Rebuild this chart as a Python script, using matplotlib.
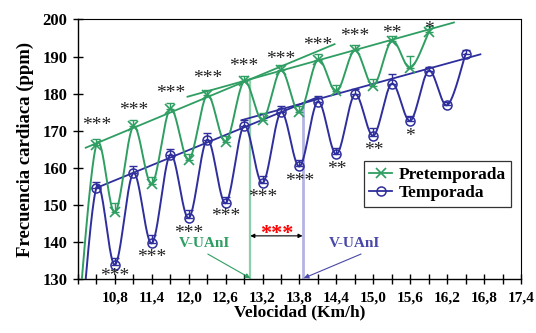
import numpy as np
import matplotlib
matplotlib.use("Agg")
import matplotlib.pyplot as plt
from matplotlib.lines import Line2D

# ---------------- data ----------------
pre_x = [10.2, 10.5, 10.8, 11.1, 11.4, 11.7, 12.0, 12.3, 12.6, 12.9, 13.2,
         13.5, 13.8, 14.1, 14.4, 14.7, 15.0, 15.3, 15.6, 15.9]
pre_y = [118.0, 166.3, 148.0, 171.2, 155.7, 175.9, 162.2, 179.6, 167.1, 183.3,
         173.0, 186.3, 175.0, 189.2, 180.6, 191.7, 182.2, 194.2, 187.0, 196.6]
pre_err = [0.0, 1.4, 2.5, 1.6, 1.8, 1.6, 1.6, 1.4, 1.6, 1.4, 1.8,
           1.5, 1.6, 1.5, 1.8, 1.4, 1.8, 1.4, 3.2, 1.6]

tem_x = [10.2, 10.5, 10.8, 11.1, 11.4, 11.7, 12.0, 12.3, 12.6, 12.9, 13.2,
         13.5, 13.8, 14.1, 14.4, 14.7, 15.0, 15.3, 15.6, 15.9, 16.2, 16.5]
tem_y = [105.0, 154.7, 133.9, 158.6, 139.7, 163.6, 146.5, 167.6, 150.5, 171.4,
         155.9, 175.0, 160.4, 177.9, 163.7, 179.8, 168.7, 182.7, 172.7, 186.2,
         176.9, 190.7]
tem_err = [0.0, 1.6, 1.8, 1.8, 2.2, 1.4, 2.1, 1.8, 1.8, 1.6, 1.8,
           1.6, 1.8, 1.5, 1.8, 1.4, 2.1, 2.6, 1.4, 1.0, 1.0, 1.2]

# anaerobic threshold velocities (V-UAnI) and HR at the breakpoint
pre_thr = (13.0, 183.9)
tem_thr = (13.85, 177.4)
# slopes of the two regression lines (before / after the breakpoint)
pre_slopes = (6.9, 4.62)
tem_slopes = (6.8, 4.57)
pre_ranges = ((10.325, 14.37), (11.98, 16.31))
tem_ranges = ((10.5, 14.1), (12.86, 16.74))

# significance labels
pre_sig_x = [10.5, 11.1, 11.7, 12.3, 12.9, 13.5, 14.1, 14.7, 15.3, 15.9]
pre_sig = ["***", "***", "***", "***", "***", "***", "***", "***", "**", "*"]
pre_sig_y = [172.7, 176.8, 181.3, 185.4, 188.6, 190.6, 194.4, 196.7, 197.5, 198.7]
tem_sig_x = [10.8, 11.4, 12.0, 12.6, 13.2, 13.8, 14.4, 15.0, 15.6]
tem_sig = ["***", "***", "***", "***", "***", "***", "**", "**", "*"]
tem_sig_y = [132.1, 137.2, 143.6, 148.1, 153.4, 157.7, 161.0, 166.0, 169.9]

x_ticks = [10.2, 10.5, 10.8, 11.1, 11.4, 11.7, 12.0, 12.3, 12.6, 12.9, 13.2,
           13.5, 13.8, 14.1, 14.4, 14.7, 15.0, 15.3, 15.6, 15.9, 16.2, 16.5,
           16.8, 17.1, 17.4]
x_labels = ["", "", "10,8", "", "11,4", "", "12,0", "", "12,6", "", "13,2", "",
            "13,8", "", "14,4", "", "15,0", "", "15,6", "", "16,2", "", "16,8",
            "", "17,4"]
y_ticks = [130, 140, 150, 160, 170, 180, 190, 200]

GREEN = "#2f9e62"
BLUE = "#2e2e9c"
GREEN_L = "#8fd0ac"
BLUE_L = "#b4b4e2"

plt.rcParams["font.family"] = ["Liberation Serif", "DejaVu Serif"]
plt.rcParams["font.weight"] = "bold"


def smooth(xs, ys, n=40):
    P = np.column_stack([xs, ys]).astype(float)
    N = len(P)
    out = [P[0]]
    t = np.linspace(0, 1, n)[1:, None]
    for i in range(N - 1):
        p0 = P[i - 1] if i > 0 else P[i]
        p1, p2 = P[i], P[i + 1]
        p3 = P[i + 2] if i + 2 < N else P[i + 1]
        b1 = p1 + (p2 - p0) / 6.0
        b2 = p2 - (p3 - p1) / 6.0
        seg = ((1 - t) ** 3) * p1 + 3 * ((1 - t) ** 2) * t * b1 + 3 * (1 - t) * t ** 2 * b2 + t ** 3 * p2
        out.extend(seg)
    return np.array(out)


fig = plt.figure(figsize=(5.36, 3.33), dpi=100)
ax = fig.add_axes([0.1455, 0.1613, 0.8265, 0.7802])
ax.set_xlim(10.2, 17.4)
ax.set_ylim(130, 200)

# threshold verticals
ax.plot([pre_thr[0], pre_thr[0]], [130, pre_thr[1]], color=GREEN_L, lw=1.6, zorder=1)
ax.plot([tem_thr[0], tem_thr[0]], [130, tem_thr[1]], color=BLUE_L, lw=2.0, zorder=1)

# regression lines
for (thr, slopes, ranges, col) in [(pre_thr, pre_slopes, pre_ranges, GREEN),
                                   (tem_thr, tem_slopes, tem_ranges, BLUE)]:
    for s, (a, b) in zip(slopes, ranges):
        xx = np.array([a, b])
        ax.plot(xx, thr[1] + s * (xx - thr[0]), color=col, lw=1.3, zorder=2)

# smoothed curves
for xs, ys, col in [(pre_x, pre_y, GREEN), (tem_x, tem_y, BLUE)]:
    c = smooth(xs, ys)
    ax.plot(c[:, 0], c[:, 1], color=col, lw=1.4, zorder=3)

# error bars + markers
px, py, pe = np.array(pre_x[1:]), np.array(pre_y[1:]), np.array(pre_err[1:])
tx, ty, te = np.array(tem_x[1:]), np.array(tem_y[1:]), np.array(tem_err[1:])
ax.errorbar(px, py, yerr=[np.zeros_like(pe), pe], fmt="none", ecolor=GREEN,
            elinewidth=1.0, capsize=3, capthick=1.0, zorder=4)
ax.errorbar(tx, ty, yerr=[np.zeros_like(te), te], fmt="none", ecolor=BLUE,
            elinewidth=1.0, capsize=3, capthick=1.0, zorder=4)
ax.plot(px, py, ls="none", marker="x", ms=6.5, mew=1.2, color=GREEN, zorder=5)
ax.plot(tx, ty, ls="none", marker="o", ms=6.5, mew=1.1, mfc="none", mec=BLUE, zorder=5)

# significance stars (glyph sits high in its box -> shift the anchor down)
STAR_SHIFT = 1.3
for x, s, y in zip(pre_sig_x, pre_sig, pre_sig_y):
    ax.text(x, y - STAR_SHIFT, s, ha="center", va="center", fontsize=14,
            fontweight="normal", color="#222222", zorder=6)
for x, s, y in zip(tem_sig_x, tem_sig, tem_sig_y):
    ax.text(x, y - STAR_SHIFT, s, ha="center", va="center", fontsize=14,
            fontweight="normal", color="#222222", zorder=6)

# double arrow between thresholds
ax.annotate("", xy=(pre_thr[0], 141.7), xytext=(tem_thr[0], 141.7),
            arrowprops=dict(arrowstyle="<|-|>", color="black", lw=0.8,
                            mutation_scale=6, shrinkA=0, shrinkB=0))
ax.text((pre_thr[0] + tem_thr[0]) / 2, 142.3, "***", ha="center", va="center",
        fontsize=16, color="red", fontweight="bold")

# V-UAnI labels
ax.text(12.25, 139.6, "V-UAnI", ha="center", va="center", fontsize=11,
        color=GREEN, fontweight="bold")
ax.annotate("", xy=(pre_thr[0], 130.3), xytext=(12.31, 136.8),
            arrowprops=dict(arrowstyle="-|>", color=GREEN, lw=0.8,
                            mutation_scale=7, shrinkA=0, shrinkB=0))
ax.text(14.70, 139.6, "V-UAnI", ha="center", va="center", fontsize=11,
        color="#4848a8", fontweight="bold")
ax.annotate("", xy=(tem_thr[0] + 0.02, 130.3), xytext=(14.80, 136.8),
            arrowprops=dict(arrowstyle="-|>", color="#4848a8", lw=0.8,
                            mutation_scale=7, shrinkA=0, shrinkB=0))

# axes styling
ax.set_xticks(x_ticks)
ax.set_xticklabels(x_labels)
ax.set_yticks(y_ticks)
ax.tick_params(axis="x", direction="inout", length=7, width=1, labelsize=11, pad=5)
ax.tick_params(axis="y", direction="inout", length=7, width=1, labelsize=12, pad=4)
for sp in ax.spines.values():
    sp.set_linewidth(1.0)
ax.spines["top"].set_linewidth(0.8)
ax.spines["right"].set_linewidth(0.8)
for lab in ax.get_xticklabels() + ax.get_yticklabels():
    lab.set_fontweight("bold")

ax.set_xlabel("Velocidad (Km/h)", fontsize=12.5, fontweight="bold", labelpad=0.5)
ax.set_ylabel("Frecuencia cardiaca (ppm)", fontsize=13.5, fontweight="bold", labelpad=6)

handles = [Line2D([], [], color=GREEN, marker="x", ms=6.5, mew=1.2, lw=1.3),
           Line2D([], [], color=BLUE, marker="o", ms=6.5, mfc="none", mew=1.1, lw=1.3)]
leg = ax.legend(handles, ["Pretemporada", "Temporada"], loc="lower left",
                bbox_to_anchor=(0.6458, 0.2794, 0.3316, 0.1925), mode="expand",
                fontsize=12.5, frameon=True, fancybox=False, borderpad=0.3,
                handlelength=1.3, handletextpad=0.4, labelspacing=0.15,
                borderaxespad=0.0)
leg.get_frame().set_edgecolor("black")
leg.get_frame().set_linewidth(0.9)
for t in leg.get_texts():
    t.set_fontweight("bold")

fig.savefig("out.png", dpi=100)
